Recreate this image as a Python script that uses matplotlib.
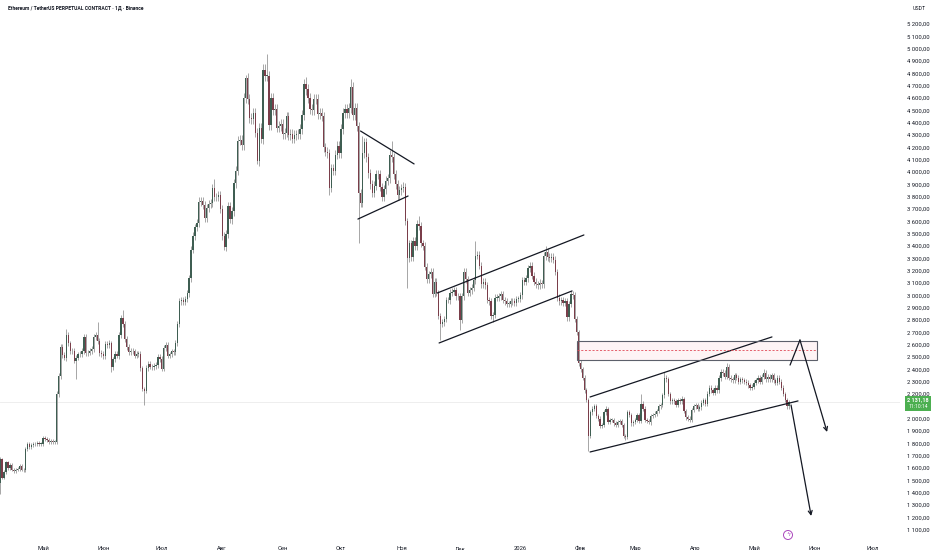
import numpy as np
import pandas as pd
import matplotlib
matplotlib.use('Agg')
import matplotlib.pyplot as plt
import matplotlib.dates as mdates
from matplotlib.patches import Rectangle, Ellipse

plt.rcParams['font.family'] = ['Roboto', 'DejaVu Sans']

''' Daily closes ETHUSDT.P, read off the chart (first candle 2025-04-09) '''
apr_2025 = [1670, 1520, 1565, 1645, 1595, 1625, 1585, 1575, 1585, 1590, 1615,
            1585, 1580, 1755, 1795, 1770, 1785, 1790, 1795, 1800, 1795, 1795]
may_2025 = [1840, 1835, 1830, 1810, 1815, 1810, 1810, 2200, 2345, 2580, 2515,
            2495, 2680, 2610, 2545, 2550, 2470, 2495, 2520, 2525, 2550, 2665,
            2530, 2535, 2550, 2565, 2660, 2680, 2630, 2530, 2525]
jun_2025 = [2505, 2605, 2595, 2610, 2415, 2480, 2525, 2510, 2680, 2815, 2770,
            2645, 2580, 2540, 2550, 2545, 2510, 2525, 2525, 2410, 2240, 2225,
            2410, 2445, 2420, 2415, 2425, 2435, 2500, 2485]
jul_2025 = [2405, 2570, 2595, 2510, 2520, 2545, 2540, 2615, 2770, 2950, 2960,
            2945, 2970, 3015, 3140, 3370, 3480, 3550, 3590, 3760, 3765, 3735,
            3625, 3710, 3740, 3750, 3870, 3795, 3795, 3810, 3700]
aug_2025 = [3480, 3395, 3495, 3720, 3615, 3680, 3910, 4010, 4255, 4260, 4220,
            4600, 4760, 4590, 4440, 4430, 4480, 4320, 4090, 4360, 4270, 4830,
            4780, 4780, 4380, 4600, 4500, 4510, 4360, 4370, 4390]
sep_2025 = [4310, 4320, 4450, 4300, 4310, 4270, 4300, 4305, 4310, 4350, 4460,
            4710, 4670, 4600, 4510, 4500, 4590, 4590, 4470, 4480, 4450, 4200,
            4165, 4150, 3870, 4030, 4010, 4140, 4210, 4150]
oct_2025 = [4350, 4480, 4510, 4480, 4520, 4690, 4460, 4520, 4370, 3830, 3750,
            4150, 4240, 4120, 3990, 3900, 3830, 3890, 3980, 3980, 3880, 3800,
            3860, 3930, 3950, 4140, 4120, 3980, 3900, 3810, 3850]
nov_2025 = [3870, 3880, 3600, 3300, 3420, 3310, 3440, 3400, 3580, 3560, 3420,
            3400, 3230, 3130, 3170, 3190, 3010, 3110, 3020, 2835, 2765, 2780,
            2810, 2960, 2960, 3020, 3030, 3040, 2990, 2990]
dec_2025 = [2800, 2990, 3190, 3130, 3020, 3040, 3060, 3120, 3320, 3330, 3240,
            3090, 3110, 3080, 2960, 2950, 2830, 2840, 2980, 2980, 2990, 3010,
            2960, 2950, 2930, 2930, 2950, 2950, 2940, 2970, 2970]
jan_2026 = [3000, 3120, 3110, 3140, 3220, 3240, 3160, 3110, 3090, 3080, 3100,
            3090, 3320, 3350, 3310, 3300, 3310, 3290, 3190, 2980, 2950, 2960,
            2940, 2950, 2820, 2930, 3010, 3000, 2810, 2700, 2450]
feb_2026 = [2400, 2330, 2230, 2150, 1860, 2050, 2080, 2100, 2020, 2000, 1940,
            1950, 2050, 2080, 1970, 1990, 1990, 1960, 1950, 1970, 1980, 1950,
            1860, 1850, 2050, 2030, 1960, 1970]
mar_2026 = [1990, 2030, 1980, 2120, 2080, 1990, 1980, 1970, 2020, 2030, 2040,
            2060, 2100, 2110, 2190, 2330, 2320, 2200, 2140, 2150, 2140, 2110,
            2150, 2140, 2160, 2060, 2010, 2000, 1990, 2070, 2100]
apr_2026 = [2110, 2080, 2090, 2130, 2150, 2120, 2200, 2250, 2230, 2210, 2250,
            2230, 2330, 2380, 2370, 2340, 2420, 2330, 2320, 2310, 2350, 2330,
            2300, 2320, 2310, 2300, 2290, 2270, 2250, 2260]
may_2026 = [2290, 2310, 2330, 2300, 2340, 2370, 2320, 2340, 2320, 2350, 2310,
            2290, 2330, 2300, 2250, 2200, 2150, 2100, 2131.18]

FIRST_OPEN = 1475
LAST_PRICE = 2131.18

# long wicks visible on the chart: date -> (high, low), None = normal wick
big_wicks = {
    '2025-04-09': (1690, 1385), '2025-05-13': (2730, None),
    '2025-05-18': (None, 2320), '2025-05-29': (2785, None),
    '2025-06-05': (None, 2380), '2025-06-11': (2880, None),
    '2025-06-22': (None, 2110), '2025-07-28': (3940, None),
    '2025-08-03': (None, 3355), '2025-08-13': (4785, None),
    '2025-08-19': (None, 4065), '2025-08-24': (4960, None),
    '2025-09-13': (4770, None), '2025-09-25': (None, 3815),
    '2025-10-06': (4755, None), '2025-10-10': (None, 3420),
    '2025-10-12': (4290, None), '2025-10-27': (4250, None),
    '2025-11-04': (None, 3060), '2025-11-10': (3640, None),
    '2025-11-21': (None, 2640), '2025-12-01': (None, 2720),
    '2025-12-09': (3440, None), '2025-12-18': (None, 2780),
    '2026-01-06': (3270, None), '2026-01-14': (3400, None),
    '2026-02-05': (None, 1740), '2026-02-24': (None, 1830),
    '2026-03-04': (2200, None), '2026-03-16': (2380, None),
    '2026-04-17': (2450, None), '2026-05-06': (2400, None),
}

y_ticks = list(range(1100, 5300, 100))
month_labels = ['Май', 'Июн', 'Июл', 'Авг', 'Сен', 'Окт', 'Ноя', 'Дек',
                '2026', 'Фев', 'Мар', 'Апр', 'Май', 'Июн', 'Июл']

''' Drawings (date, price) '''
triangle_top = [('2025-10-11', 4332), ('2025-11-07 12:00', 4065)]
triangle_bot = [('2025-10-09 16:00', 3618), ('2025-11-04 10:00', 3805)]
channel1_top = [('2025-11-19 08:00', 3018), ('2026-02-02 16:00', 3489)]
channel1_bot = [('2025-11-20 08:00', 2613), ('2026-01-27 14:00', 3035)]
channel2_top = [('2026-02-05 20:00', 2175), ('2026-05-10 05:00', 2662)]
channel2_bot = [('2026-02-05 20:00', 1729), ('2026-05-23 14:00', 2143)]
zone = ('2026-01-30', '2026-06-02 08:00', 2475, 2629, 2552)
path_up = [('2026-05-19 12:00', 2434), ('2026-05-24 14:00', 2637),
           ('2026-06-07 12:00', 1891)]
path_down = [('2026-05-20', 2110), ('2026-05-30 08:00', 1210)]

''' Build candles '''
closes = np.array(apr_2025 + may_2025 + jun_2025 + jul_2025 + aug_2025 +
                  sep_2025 + oct_2025 + nov_2025 + dec_2025 + jan_2026 +
                  feb_2026 + mar_2026 + apr_2026 + may_2026, dtype=float)
dates = pd.date_range('2025-04-09', periods=len(closes), freq='D')
opens = np.concatenate([[FIRST_OPEN], closes[:-1]])
pad = 0.009 * closes
highs = np.maximum(opens, closes) + pad
lows = np.minimum(opens, closes) - pad
for d, (h, l) in big_wicks.items():
    k = dates.get_loc(pd.Timestamp(d))
    if h is not None:
        highs[k] = h
    if l is not None:
        lows[k] = l

xd = mdates.date2num(dates)
up = closes >= opens

''' Figure '''
W, H = 932, 550
fig = plt.figure(figsize=(W / 100, H / 100), dpi=100)
fig.patch.set_facecolor('white')
ax = fig.add_axes([0, 18 / H, 900 / W, 532 / H])
for s in ax.spines.values():
    s.set_visible(False)

px_day = 1.948
ref = mdates.date2num(pd.Timestamp('2025-05-01'))
ax.set_xlim(ref - 43 / px_day, ref + (900 - 43) / px_day)
ax.set_ylim(1080.0, 5394.6)

# price line
ax.axhline(LAST_PRICE, color='#ebebeb', lw=0.6, zorder=1)

ax.vlines(xd, lows, highs, color='#979797', lw=0.6, zorder=2)
body_lo = np.minimum(opens, closes)
body_h = np.maximum(np.abs(closes - opens), 5)
ax.bar(xd[up], body_h[up], bottom=body_lo[up], width=0.66,
       color='#3f5e52', linewidth=0, zorder=3)
ax.bar(xd[~up], body_h[~up], bottom=body_lo[~up], width=0.66,
       color='#7a3e4a', linewidth=0, zorder=3)


def dnum(s):
    return mdates.date2num(pd.Timestamp(s))


line_kw = dict(color='#131722', lw=0.9, zorder=4, solid_capstyle='round')
for seg in [triangle_top, triangle_bot, channel1_top, channel1_bot,
            channel2_top, channel2_bot]:
    ax.plot([dnum(seg[0][0]), dnum(seg[1][0])], [seg[0][1], seg[1][1]],
            **line_kw)

# resistance zone
z0, z1, zb, zt, zm = zone
ax.add_patch(Rectangle((dnum(z0), zb), dnum(z1) - dnum(z0), zt - zb,
                       facecolor='#f23645', alpha=0.05, edgecolor='none',
                       zorder=2))
ax.add_patch(Rectangle((dnum(z0), zb), dnum(z1) - dnum(z0), zt - zb,
                       facecolor='none', edgecolor='#5d606b', lw=0.8,
                       zorder=4))
ax.plot([dnum(z0), dnum(z1)], [zm, zm], color='#e04a57', lw=0.6,
        dashes=(2.5, 2), zorder=4)

# projected paths
ax.plot([dnum(path_up[0][0]), dnum(path_up[1][0])],
        [path_up[0][1], path_up[1][1]], **line_kw)
arrow_kw = dict(arrowstyle='->', color='#131722', lw=0.9,
                shrinkA=0, shrinkB=0, mutation_scale=7)
ax.annotate('', xy=(dnum(path_up[2][0]), path_up[2][1]),
            xytext=(dnum(path_up[1][0]), path_up[1][1]),
            arrowprops=arrow_kw, zorder=4)
ax.annotate('', xy=(dnum(path_down[1][0]), path_down[1][1]),
            xytext=(dnum(path_down[0][0]), path_down[0][1]),
            arrowprops=arrow_kw, zorder=4)

# axes ticks
ax.yaxis.tick_right()
ax.set_yticks(y_ticks)
ax.set_yticklabels([f'{v:,}'.replace(',', ' ') + ',00' for v in y_ticks])
month_starts = pd.date_range('2025-05-01', periods=len(month_labels), freq='MS')
ax.set_xticks(mdates.date2num(month_starts))
ax.set_xticklabels(month_labels, va='baseline')
ax.tick_params(axis='y', length=0, pad=5, labelsize=4.2, labelcolor='#131722')
ax.tick_params(axis='x', length=0, pad=13, labelsize=4.2,
               labelcolor='#131722')

# texts
fig.text(8 / W, 1 - 8 / H,
         'Ethereum / TetherUS PERPETUAL CONTRACT · 1Д · Binance',
         fontsize=3.6, fontweight='bold', color='#131722', va='center')
fig.text(913 / W, 1 - 8 / H, 'USDT', fontsize=3.8, color='#131722',
         va='center')

# last price badge
fig.add_artist(Rectangle((905 / W, 1 - 411 / H), 26 / W, 15 / H,
                         transform=fig.transFigure, facecolor='#4caf50',
                         edgecolor='none'))
fig.text(918 / W, 1 - 400 / H, '2 131,18', fontsize=4, color='white',
         ha='center', va='center', fontweight='bold')
fig.text(918 / W, 1 - 407 / H, '11:10:14', fontsize=3.6, color='white',
         ha='center', va='center')

# events icon
fig.add_artist(Ellipse((788 / W, 1 - 535 / H), 9 / W, 9 / H,
                       transform=fig.transFigure, facecolor='white',
                       edgecolor='#ab47bc', lw=0.7))
fig.text(788 / W, 1 - 535 / H, 'ϟ', fontsize=4.5, color='#ab47bc',
         ha='center', va='center', family='DejaVu Sans')

fig.savefig('out.png', dpi=100, facecolor='white')
